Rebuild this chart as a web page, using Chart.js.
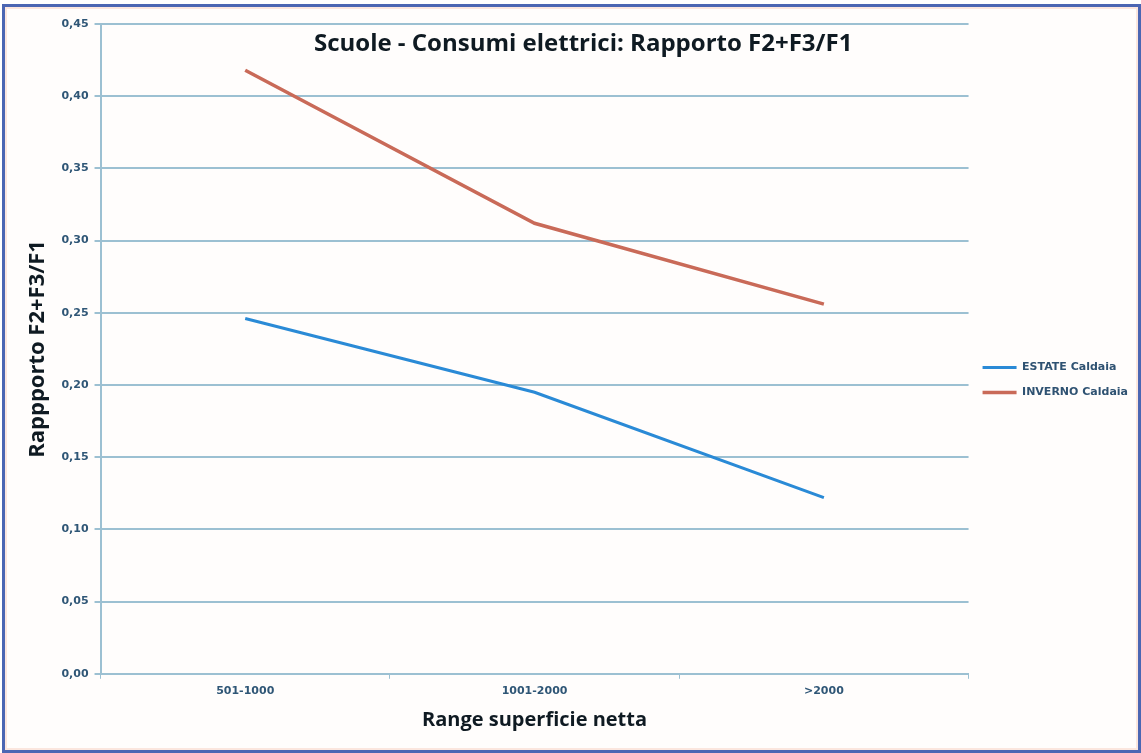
<!DOCTYPE html>
<html>
<head>
<meta charset="utf-8">
<script src="https://cdn.jsdelivr.net/npm/chart.js@4/dist/chart.umd.min.js"></script>
<style>
  html, body { margin: 0; padding: 0; background: #ffffff; }
  #frame {
    position: absolute; left: 2px; top: 4px; width: 1133px; height: 743px;
    border: 3px solid #4b66b3; background: #fffdfc;
    box-shadow: inset 0 0 0 2px #fbe6de;
  }
  #wrap { position: absolute; left: 0; top: 0; width: 1133px; height: 743px; }
</style>
</head>
<body>
<div id="frame"><div id="wrap"><canvas id="c"></canvas></div></div>
<script>
// data
const categories = ['501-1000', '1001-2000', '>2000']
const estate = [0.246, 0.195, 0.122]
const inverno = [0.418, 0.312, 0.256]
const seriesNames = ['ESTATE Caldaia', 'INVERNO Caldaia']
const chartTitle = 'Scuole - Consumi elettrici: Rapporto F2+F3/F1'
const yTitle = 'Rappporto F2+F3/F1'
const xTitle = 'Range superficie netta'

const GRID = '#9cc0d2'
const TICK = '#2f5676'
const SANS = '"Open Sans", sans-serif'
const WIDE = '"DejaVu Sans", sans-serif'

// title is drawn inside the plot area, like the original
const innerTitle = {
  id: 'innerTitle',
  afterDraw(chart) {
    const { ctx, chartArea } = chart
    ctx.save()
    ctx.font = 'bold 24px ' + SANS
    ctx.fillStyle = '#0f1a22'
    ctx.textAlign = 'center'
    ctx.textBaseline = 'middle'
    ctx.fillText(chartTitle, chartArea.left + (chartArea.right - chartArea.left) * 0.556, chartArea.top + 20)
    ctx.restore()
  }
}

new Chart(document.getElementById('c'), {
  type: 'line',
  data: {
    labels: categories,
    datasets: [
      { label: seriesNames[0], data: estate, borderColor: '#2a8ad6', backgroundColor: '#2a8ad6',
        borderWidth: 3, pointRadius: 0, tension: 0 },
      { label: seriesNames[1], data: inverno, borderColor: '#c96a58', backgroundColor: '#c96a58',
        borderWidth: 3.5, pointRadius: 0, tension: 0 }
    ]
  },
  options: {
    responsive: true,
    maintainAspectRatio: false,
    animation: false,
    layout: { padding: { left: 16, top: 17, right: 0, bottom: 14 } },
    plugins: {
      title: { display: false },
      tooltip: { enabled: false },
      legend: {
        position: 'right',
        labels: {
          usePointStyle: true, pointStyle: 'line', pointStyleWidth: 34, padding: 14,
          color: '#2f5272', font: { size: 11, weight: 'bold', family: WIDE }
        }
      }
    },
    scales: {
      x: {
        offset: true,
        grid: { offset: true, drawOnChartArea: false, color: GRID, tickLength: 5 },
        border: { color: GRID, width: 2 },
        ticks: { color: TICK, padding: 6, font: { size: 11, weight: 'bold', family: WIDE } },
        title: { display: true, text: xTitle, color: '#0f1a22', padding: { top: 4 },
          font: { size: 20, weight: 'bold', family: SANS } }
      },
      y: {
        min: 0, max: 0.45,
        grid: { color: GRID, lineWidth: 2, tickLength: 6 },
        border: { color: GRID, width: 2 },
        ticks: {
          stepSize: 0.05, color: TICK, padding: 6,
          font: { size: 11, weight: 'bold', family: WIDE },
          callback: v => v.toFixed(2).replace('.', ',')
        },
        title: { display: true, text: yTitle, color: '#0f1a22', padding: { bottom: 4 },
          font: { size: 22, weight: 'bold', family: SANS } }
      }
    }
  },
  plugins: [innerTitle]
})
</script>
</body>
</html>
